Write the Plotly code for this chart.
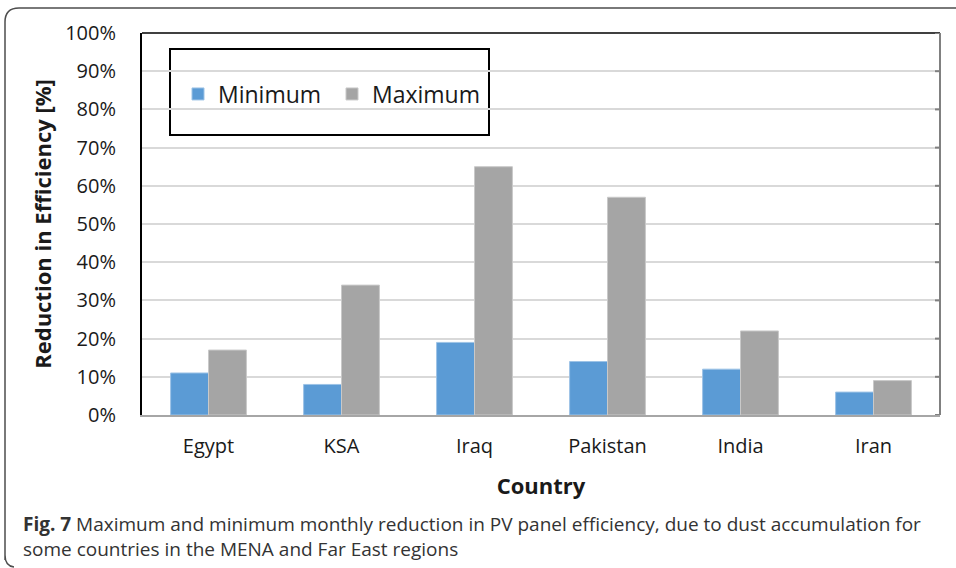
import plotly.graph_objects as go

countries = ["Egypt", "KSA", "Iraq", "Pakistan", "India", "Iran"]
minimum = [11, 8, 19, 14, 12, 6]
maximum = [17, 34, 65, 57, 22, 9]
ytick_vals = [0, 10, 20, 30, 40, 50, 60, 70, 80, 90, 100]
ytick_text = [f"{v}%" for v in ytick_vals]

FONT = "Open Sans"
W, H = 956, 568
L, R, T, B = 142, 16, 33, 153
PW, PH = W - L - R, H - T - B

def px(x):
    return (x - L) / PW

def py(y):
    return (H - B - y) / PH

fig = go.Figure()
fig.add_trace(go.Bar(x=countries, y=minimum, name="Minimum",
                     marker=dict(color="#5B9BD5", line=dict(color="#9DC3E6", width=1))))
fig.add_trace(go.Bar(x=countries, y=maximum, name="Maximum",
                     marker=dict(color="#A5A5A5", line=dict(color="#C9C9C9", width=1))))

fig.update_layout(
    width=W, height=H,
    margin=dict(l=L, r=R, t=T, b=B),
    paper_bgcolor="white", plot_bgcolor="white",
    barmode="group", bargap=0.43, bargroupgap=0,
    font=dict(family=FONT, color="#1a1a1a", size=20),
    showlegend=True,
    legend=dict(orientation="h", x=px(178), y=py(94), xanchor="left", yanchor="middle",
                font=dict(size=23, family=FONT, color="#1a1a1a"),
                bgcolor="rgba(0,0,0,0)", itemwidth=30, traceorder="normal",
                entrywidth=109, entrywidthmode="pixels"),
    xaxis=dict(showgrid=False, showline=True, linecolor="#A6A6A6", linewidth=2,
               ticks="", tickfont=dict(size=20), ticklabelstandoff=12,
               title=dict(text="<b>Country</b>", font=dict(size=22), standoff=21)),
    yaxis=dict(range=[0, 100], tickvals=ytick_vals, ticktext=ytick_text,
               showgrid=True, gridcolor="#D9D9D9", gridwidth=2,
               showline=True, linecolor="#000000", linewidth=2,
               ticks="", tickfont=dict(size=20), ticklabelstandoff=20, zeroline=False,
               title=dict(text="<b>Reduction in Efficiency [%]</b>", font=dict(size=22), standoff=7)),
)

# plot frame top/right
fig.add_shape(type="line", xref="paper", yref="paper", x0=0, x1=1, y0=1, y1=1,
              line=dict(color="#404040", width=2))
fig.add_shape(type="line", xref="paper", yref="paper", x0=1, x1=1, y0=0, y1=1,
              line=dict(color="#808080", width=2))
# small right ticks
for v in ytick_vals:
    fig.add_shape(type="line", xref="paper", yref="y", x0=1 - 5 / PW, x1=1, y0=v, y1=v,
                  line=dict(color="#808080", width=2))

# legend box
fig.add_shape(type="rect", xref="paper", yref="paper", x0=px(170), x1=px(489),
              y0=py(135), y1=py(49), line=dict(color="#000000", width=2),
              fillcolor="white", layer="below")

# outer rounded frame
path = (f"M {px(5)},{py(560)} L {px(5)},{py(22)} "
        f"Q {px(5)},{py(8)} {px(19)},{py(8)} L {px(956)},{py(8)} "
        f"M {px(5)},{py(555)} Q {px(5)},{py(566)} {px(14)},{py(567)}")
fig.add_shape(type="path", xref="paper", yref="paper", path=path,
              line=dict(color="#4d4d4d", width=1.5))

fig.add_annotation(xref="paper", yref="paper", x=px(21), y=py(536),
                   xanchor="left", yanchor="middle", align="left", showarrow=False,
                   text="<b>Fig. 7</b> Maximum and minimum monthly reduction in PV panel efficiency, due to dust accumulation for<br>some countries in the MENA and Far East regions",
                   font=dict(size=19, family=FONT, color="#333333"))

fig.write_html("out.html")
